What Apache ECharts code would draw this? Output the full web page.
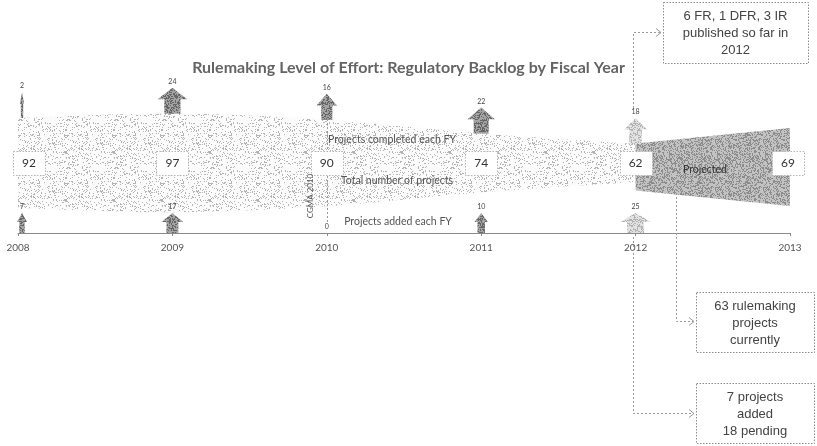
<!DOCTYPE html>
<html>
<head>
<meta charset="utf-8">
<script src="https://cdn.jsdelivr.net/npm/echarts@6/dist/echarts.min.js"></script>
<style>
  html, body { margin: 0; padding: 0; background: #fff; }
  #chart { width: 817px; height: 446px; }
</style>
</head>
<body>
<div id="chart"></div>
<script>
// Backlog figures per fiscal year
const fiscalYears = [2008, 2009, 2010, 2011, 2012];
const totalProjects = [92, 97, 90, 74, 62];
const completedProjects = [2, 24, 16, 22, 18];
const addedProjects = [7, 17, 0, 10, 25];

// Projection from the current year into the next one
const projectedYears = [2012, 2013];
const projectedTotals = [62, 69];

const yearTickLabels = ['2008', '2009', '2010', '2011', '2012', '2013'];
const currentYear = 2012;

const titleText = 'Rulemaking Level of Effort: Regulatory Backlog by Fiscal Year';
const bandCaptions = ['Projects completed each FY', 'Total number of projects', 'Projects added each FY'];
const projectedCaption = 'Projected';
const cgmaNote = 'CGMA 2010';
const publishedNote = ['6 FR, 1 DFR, 3 IR', 'published so far in', '2012'];
const currentNote = ['63 rulemaking', 'projects', 'currently'];
const pendingNote = ['7 projects', 'added', '18 pending'];

// Band geometry: each band is mirrored around a mid value on its own hidden axis
const HIST_MID = 40;
const PROJ_MID = 51.4;

// Deterministic stipple texture
function hash(x, y, s) {
  let n = (Math.imul(x, 374761393) + Math.imul(y, 668265263) + Math.imul(s, 982451653)) | 0;
  n = Math.imul(n ^ (n >>> 13), 1274126177);
  n = n ^ (n >>> 16);
  return ((n >>> 0) % 1000) / 1000;
}
function stipple(bg, dot, density, seed) {
  const size = 48;
  const c = document.createElement('canvas');
  c.width = size; c.height = size;
  const g = c.getContext('2d');
  g.fillStyle = bg;
  g.fillRect(0, 0, size, size);
  g.fillStyle = dot;
  for (let y = 0; y < size; y++) {
    for (let x = 0; x < size; x++) {
      if (hash(x, y, seed) < density) g.fillRect(x, y, 1, 1);
    }
  }
  return { image: c, repeat: 'repeat' };
}

const lightBand = stipple('#fbfbfb', '#b4b4b4', 0.15, 3);
const darkBand = stipple('#c2c2c2', '#8c8c8c', 0.38, 7);
const darkArrow = stipple('#a4a4a4', '#666666', 0.42, 11);
const lightArrow = stipple('#e2e2e2', '#b2b2b2', 0.38, 13);

// Catmull-Rom sampling between pixel points for a smooth band edge
function smoothEdge(pts, seg) {
  if (!seg || pts.length < 3) return pts.slice();
  const out = [];
  for (let i = 0; i < pts.length - 1; i++) {
    const p0 = pts[Math.max(i - 1, 0)], p1 = pts[i], p2 = pts[i + 1], p3 = pts[Math.min(i + 2, pts.length - 1)];
    for (let s = 0; s < seg; s++) {
      const t = s / seg, t2 = t * t, t3 = t2 * t;
      const f = (k) => 0.5 * (2 * p1[k] + (-p0[k] + p2[k]) * t +
        (2 * p0[k] - 5 * p1[k] + 4 * p2[k] - p3[k]) * t2 +
        (-p0[k] + 3 * p1[k] - 3 * p2[k] + p3[k]) * t3);
      out.push([f(0), f(1)]);
    }
  }
  out.push(pts[pts.length - 1]);
  return out;
}

function bandItem(api, xs, totals, mid, fill, seg) {
  const top = xs.map((x, i) => api.coord([x, totals[i]]));
  const bottom = xs.map((x, i) => api.coord([x, 2 * mid - totals[i]]));
  const pts = smoothEdge(top, seg).concat(smoothEdge(bottom, seg).reverse());
  return { type: 'polygon', shape: { points: pts }, style: { fill: fill, stroke: null } };
}

function arrowPoints(cx, baseY, headW, h) {
  const shaftW = headW * 0.55;
  const headH = h * 0.45;
  const neck = baseY - (h - headH);
  return [
    [cx - shaftW / 2, baseY], [cx - shaftW / 2, neck], [cx - headW / 2, neck],
    [cx, baseY - h],
    [cx + headW / 2, neck], [cx + shaftW / 2, neck], [cx + shaftW / 2, baseY]
  ];
}

function arrowItem(cx, baseY, value, height, year) {
  const h = value > 0 ? height : 0;
  const headW = 2 + value * 1.15;
  const fill = year === currentYear ? lightArrow : darkArrow;
  const children = [];
  if (h > 0) {
    children.push({
      type: 'polygon',
      shape: { points: arrowPoints(cx, baseY, headW, h) },
      style: { fill: fill, stroke: null }
    });
  }
  children.push({
    type: 'text',
    style: {
      x: cx, y: baseY - h - 6, text: String(value),
      font: '7px Lato', fill: '#444', align: 'center', verticalAlign: 'middle'
    }
  });
  return { type: 'group', children: children };
}

const chart = echarts.init(document.getElementById('chart'), null, { renderer: 'canvas' });

const boxData = fiscalYears.map((y, i) => [y, totalProjects[i]])
  .concat(projectedYears.slice(1).map((y, i) => [y, projectedTotals[i + 1]]));

const dashed = { stroke: '#9a9a9a', lineWidth: 1, lineDash: [2, 2], fill: null };
const chevron = { stroke: '#9a9a9a', lineWidth: 1, fill: null };
const boxStyle = { fill: '#fff', stroke: '#8c8c8c', lineWidth: 1, lineDash: [1.5, 1.5] };
const noteFont = '13px "Liberation Sans", Arial, sans-serif';

function callout(x, y, w, h, lines) {
  return [
    { type: 'rect', shape: { x: x + 0.5, y: y + 0.5, width: w, height: h }, style: boxStyle, z: 10 },
    {
      type: 'text', x: x + w / 2, y: y + h / 2 + 1, z: 11,
      style: {
        text: lines.join('\n'), font: noteFont, fill: '#444',
        align: 'center', verticalAlign: 'middle', lineHeight: 17
      }
    }
  ];
}

const captionStyle = (text) => ({ text: text, font: '10.5px Lato', fill: '#555', align: 'center', verticalAlign: 'middle' });

const option = {
  animation: false,
  backgroundColor: '#fff',
  title: {
    text: titleText,
    left: 'center',
    top: 55,
    textStyle: {
      fontFamily: 'Lato', fontWeight: 'bold', fontSize: 16, color: '#646464'
    }
  },
  grid: { left: 18, right: 27, top: 60, bottom: 213, containLabel: false },
  xAxis: {
    type: 'value', min: 2008, max: 2013, interval: 1,
    axisLine: { show: true, lineStyle: { color: '#8a8a8a', width: 1 } },
    axisTick: { show: true, length: 3, lineStyle: { color: '#8a8a8a' } },
    splitLine: { show: false },
    axisLabel: {
      margin: 10, color: '#555', fontFamily: 'Lato', fontSize: 10,
      formatter: (v) => yearTickLabels[Math.round(v - 2008)] || ''
    }
  },
  yAxis: [
    { type: 'value', min: 0, max: 173, show: false },
    { type: 'value', min: -41, max: 159, show: false },
    { type: 'value', min: 21.6, max: 99.7, show: false }
  ],
  series: [
    {
      // total number of projects: band whose width follows the backlog
      type: 'custom', yAxisIndex: 1, z: 1, silent: true,
      encode: { x: 0, y: 1 },
      data: fiscalYears.map((y, i) => [y, totalProjects[i]]),
      renderItem: (params, api) => params.dataIndex === 0
        ? bandItem(api, fiscalYears, totalProjects, HIST_MID, lightBand, 14)
        : null
    },
    {
      // projected backlog
      type: 'custom', yAxisIndex: 2, z: 2, silent: true,
      encode: { x: 0, y: 1 },
      data: projectedYears.map((y, i) => [y, projectedTotals[i]]),
      renderItem: (params, api) => params.dataIndex === 0
        ? bandItem(api, projectedYears, projectedTotals, PROJ_MID, darkBand, 0)
        : null
    },
    {
      // completed projects: arrows rising from the top edge of the band
      type: 'custom', yAxisIndex: 1, z: 3, silent: true,
      encode: { x: 0, y: 1 },
      data: fiscalYears.map((y, i) => [y, totalProjects[i], completedProjects[i]]),
      renderItem: (params, api) => {
        const p = api.coord([api.value(0), api.value(1)]);
        const cx = Math.max(p[0], 22);
        return arrowItem(cx, p[1], api.value(2), 26, api.value(0));
      }
    },
    {
      // added projects: arrows rising from the year axis
      type: 'custom', yAxisIndex: 0, z: 3, silent: true,
      encode: { x: 0, y: 1 },
      data: fiscalYears.map((y, i) => [y, addedProjects[i]]),
      renderItem: (params, api) => {
        const p = api.coord([api.value(0), 0]);
        const cx = Math.max(p[0], 22);
        return arrowItem(cx, p[1], api.value(1), 20, api.value(0));
      }
    },
    {
      // total number of projects, boxed on the band's centre line
      type: 'custom', yAxisIndex: 1, z: 4, silent: true,
      encode: { x: 0, y: 1 },
      data: boxData,
      renderItem: (params, api) => {
        const p = api.coord([api.value(0), HIST_MID]);
        const w = 32, h = 24;
        const cx = Math.min(Math.max(p[0], 13 + w / 2), 804 - w / 2);
        return {
          type: 'group',
          children: [
            {
              type: 'rect',
              shape: { x: Math.round(cx - w / 2) + 0.5, y: Math.round(p[1] - h / 2) + 0.5, width: w, height: h },
              style: { fill: '#fff', stroke: '#b5b5b5', lineWidth: 1, lineDash: [1.5, 1.5] }
            },
            {
              type: 'text',
              style: {
                x: cx, y: p[1], text: String(api.value(1)),
                font: '12px Lato', fill: '#333', align: 'center', verticalAlign: 'middle'
              }
            }
          ]
        };
      }
    }
  ],
  graphic: [
    // captions inside the band
    { type: 'text', x: 392, y: 140, z: 6, style: captionStyle(bandCaptions[0]) },
    { type: 'text', x: 397, y: 181, z: 6, style: captionStyle(bandCaptions[1]) },
    { type: 'text', x: 398, y: 222, z: 6, style: captionStyle(bandCaptions[2]) },
    { type: 'text', x: 705, y: 170, z: 6, style: { text: projectedCaption, font: '10.5px Lato', fill: '#333', align: 'center', verticalAlign: 'middle' } },
    // 2010 marker
    { type: 'polyline', z: 5, shape: { points: [[327.5, 111], [327.5, 149]] }, style: dashed },
    { type: 'polyline', z: 5, shape: { points: [[327.5, 176], [327.5, 222]] }, style: dashed },
    { type: 'text', x: 310, y: 196, rotation: Math.PI / 2, z: 6, style: { text: cgmaNote, font: '8px Lato', fill: '#555', align: 'center', verticalAlign: 'middle' } },
    // connectors to the notes
    { type: 'polyline', z: 9, shape: { points: [[633.5, 112], [633.5, 32.5], [661, 32.5]] }, style: dashed },
    { type: 'polyline', z: 9, shape: { points: [[656, 28.5], [661, 32.5], [656, 36.5]] }, style: chevron },
    { type: 'polyline', z: 9, shape: { points: [[676.5, 177], [676.5, 321.5], [694, 321.5]] }, style: dashed },
    { type: 'polyline', z: 9, shape: { points: [[689, 317.5], [694, 321.5], [689, 325.5]] }, style: chevron },
    { type: 'polyline', z: 9, shape: { points: [[633.5, 237], [633.5, 413.5], [694, 413.5]] }, style: dashed },
    { type: 'polyline', z: 9, shape: { points: [[689, 409.5], [694, 413.5], [689, 417.5]] }, style: chevron }
  ]
    .concat(callout(663, 2, 145, 61, publishedNote))
    .concat(callout(696, 292, 118, 60, currentNote))
    .concat(callout(696, 383, 118, 60, pendingNote))
};

chart.setOption(option);
</script>
</body>
</html>
